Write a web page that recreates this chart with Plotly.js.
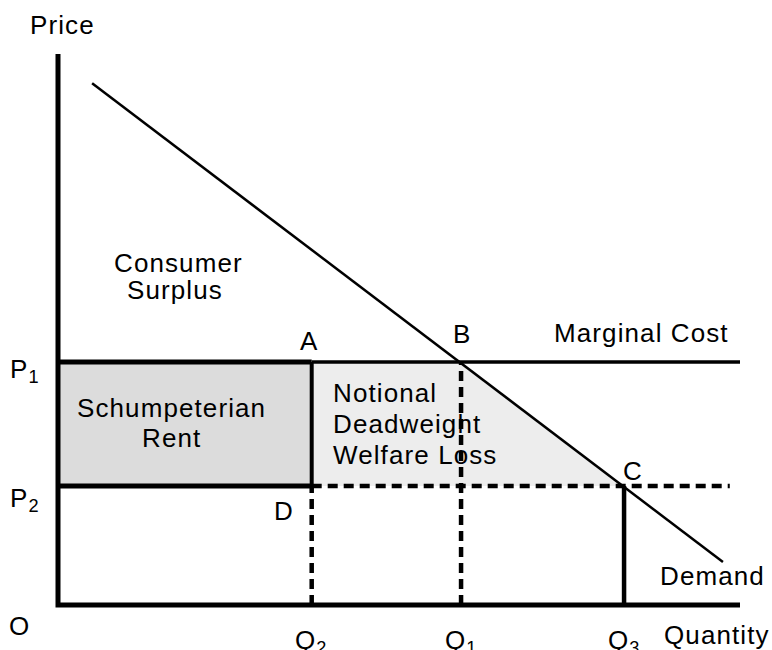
<!DOCTYPE html>
<html>
<head>
<meta charset="utf-8">
<script src="https://cdn.plot.ly/plotly-3.0.1.min.js"></script>
<style>
html, body { margin: 0; padding: 0; background: #ffffff; }
#chart { width: 772px; height: 650px; }
.annotation-text { letter-spacing: 1.1px; }
</style>
</head>
<body>
<div id="chart"></div>
<script>
// Quantities (x) and prices (y) in chart units
var quantities = { Q2: 3.72, Q1: 5.91, Q3: 8.30 };
var prices = { P1: 4.41, P2: 2.16 };
var axisEnds = { x: 10.0, y: 10.0 };
var mcEnd = 10.0;
var p2DashEnd = 9.85;
var demandX = [0.50, 9.75];
var demandY = [9.47, 0.78];

var Q1 = quantities.Q1, Q2 = quantities.Q2, Q3 = quantities.Q3;
var P1 = prices.P1, P2 = prices.P2;

var black = '#000000';
var dash = '10px,6px';

function seg(x, y, w, d) {
  return { x: x, y: y, mode: 'lines', hoverinfo: 'skip', showlegend: false,
    line: { color: black, width: w, dash: d || 'solid' } };
}

var traces = [
  // Schumpeterian rent area
  { x: [0, Q2, Q2, 0, 0], y: [P2, P2, P1, P1, P2], mode: 'lines', fill: 'toself',
    fillcolor: '#dcdcdc', line: { width: 0 }, hoverinfo: 'skip', showlegend: false },
  // Notional deadweight welfare loss area
  { x: [Q2, Q1, Q3, Q2, Q2], y: [P1, P1, P2, P2, P1], mode: 'lines', fill: 'toself',
    fillcolor: '#ededed', line: { width: 0 }, hoverinfo: 'skip', showlegend: false },
  // dashed guide lines
  seg([Q2, p2DashEnd], [P2, P2], 4.5, dash),
  seg([Q2, Q2], [0, P2], 4.5, dash),
  seg([Q1, Q1], [0, P1], 4.5, dash),
  // marginal cost
  seg([Q2, mcEnd], [P1, P1], 3.5),
  // rent rectangle borders
  seg([0, Q2], [P1, P1], 5),
  seg([0, Q2], [P2, P2], 5),
  seg([Q2, Q2], [P2, P1], 4),
  // Q3 solid drop
  seg([Q3, Q3], [0, P2], 4.5),
  // demand
  seg(demandX, demandY, 2.5),
  // axes
  seg([0, 0, axisEnds.x], [axisEnds.y, 0, 0], 5)
];

var fnt = { family: 'Liberation Sans, Arial, Helvetica, sans-serif', size: 26, color: black };
function ann(text, x, y, opts) {
  var a = { text: text, x: x, y: y, xref: 'x', yref: 'y', showarrow: false,
    xanchor: 'center', yanchor: 'middle', font: fnt, align: 'center' };
  if (opts) for (var k in opts) a[k] = opts[k];
  return a;
}
var L = { xanchor: 'left', align: 'left' };

var annotations = [
  ann('Price', 0.07, 10.52),
  ann('Consumer', 1.76, 6.21),
  ann('Surplus', 1.72, 5.71),
  ann('A', 3.68, 4.79),
  ann('B', 5.93, 4.92),
  ann('Marginal Cost', 8.55, 4.94),
  ann('P<sub>1</sub>', -0.49, 4.25),
  ann('P<sub>2</sub>', -0.49, 1.92),
  ann('Schumpeterian', 1.66, 3.57),
  ann('Rent', 1.67, 3.04),
  ann('Notional', 4.01, 3.84, L),
  ann('Deadweight', 4.01, 3.29, L),
  ann('Welfare Loss', 4.01, 2.72, L),
  ann('C', 8.43, 2.43),
  ann('D', 3.31, 1.71),
  ann('Demand', 9.59, 0.53),
  ann('O', -0.56, -0.38),
  ann('Q<sub>2</sub>', Q2, -0.66),
  ann('Q<sub>1</sub>', Q1, -0.66),
  ann('Q<sub>3</sub>', Q3, -0.66),
  ann('Quantity', 9.66, -0.54)
];

var layout = {
  width: 772, height: 650,
  margin: { l: 0, r: 0, t: 0, b: 0, pad: 0 },
  paper_bgcolor: '#ffffff', plot_bgcolor: '#ffffff',
  xaxis: { range: [-58 / 68.2, 714 / 68.2], visible: false, fixedrange: true },
  yaxis: { range: [-45 / 55.1, 605 / 55.1], visible: false, fixedrange: true },
  annotations: annotations,
  showlegend: false
};

Plotly.newPlot('chart', traces, layout, { displayModeBar: false, staticPlot: true });
</script>
</body>
</html>
